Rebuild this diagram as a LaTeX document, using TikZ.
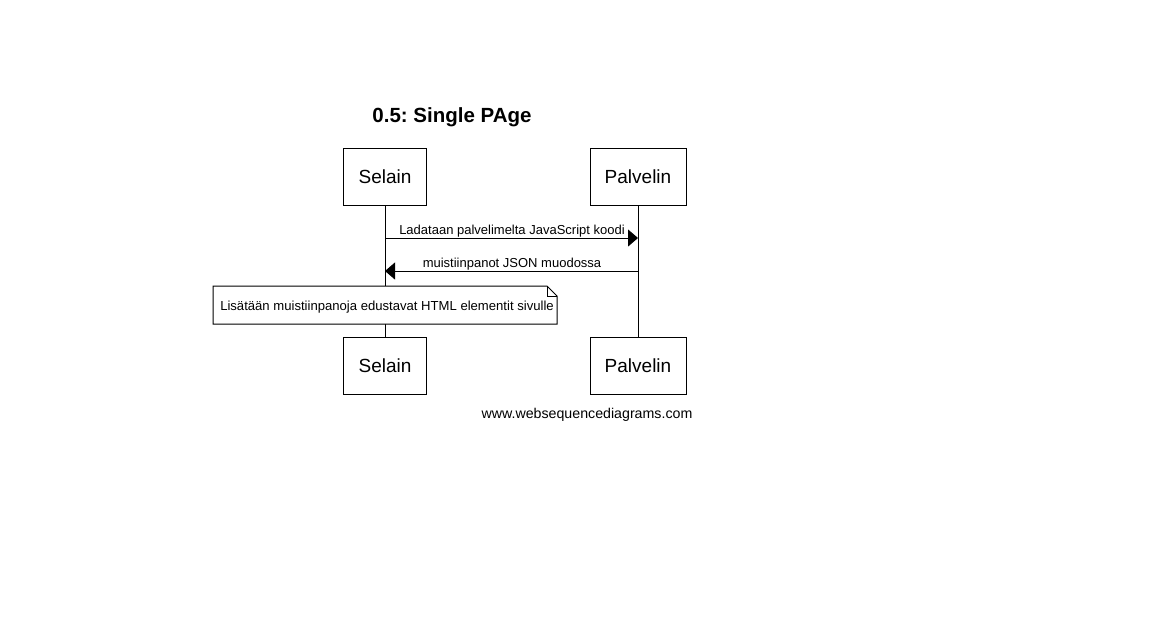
\documentclass[tikz,border=0pt]{standalone}
\usepackage{fontspec}
\setmainfont{Liberation Sans}
\usetikzlibrary{arrows.meta}
\frenchspacing
\begin{document}
\begin{tikzpicture}[x=1pt,y=-1pt,line width=1pt,
  actor/.style={draw,fill=white,minimum width=83pt,minimum height=57pt,inner sep=0pt,font=\fontsize{19}{22}\selectfont},
  msg/.style={-{Triangle[length=10pt,width=17pt]}},
  lbl/.style={font=\fontsize{13}{15}\selectfont,inner sep=0pt,anchor=base}]
\useasboundingbox (0,0) rectangle (1172,641);
\node[font=\bfseries\fontsize{20.5}{24}\selectfont,anchor=base] (title) at (452,122) {0.5: Single PAge};
\node[actor] (st) at (385,176.5) {Selain};
\node[actor,minimum width=96pt] (pt) at (638,176.5) {Palvelin};
\node[actor] (sb) at (385,365.5) {Selain};
\node[actor,minimum width=96pt] (pb) at (638,365.5) {Palvelin};
\draw (st.south) -- (sb.north);
\draw (pt.south) -- (pb.north);
\coordinate (a1s) at (385,238);
\coordinate (a1e) at (638,238);
\draw[msg] (a1s) -- (a1e);
\node[lbl] (l1) at (512,234) {Ladataan palvelimelta JavaScript koodi};
\coordinate (a2s) at (638,271);
\coordinate (a2e) at (385,271);
\draw[msg] (a2s) -- (a2e);
\node[lbl] (l2) at (512,267) {muistiinpanot JSON muodossa};
\draw[fill=white] (213,286) -- (547,286) -- (557,296) -- (557,324) -- (213,324) -- cycle;
\draw (547,286) -- (547,296) -- (557,296);
\node[lbl,font=\fontsize{13.1}{15}\selectfont] (note) at (387,310) {Lisätään muistiinpanoja edustavat HTML elementit sivulle};
\node[lbl,font=\fontsize{14.2}{16}\selectfont] (foot) at (587,418) {www.websequencediagrams.com};
\end{tikzpicture}
\end{document}
